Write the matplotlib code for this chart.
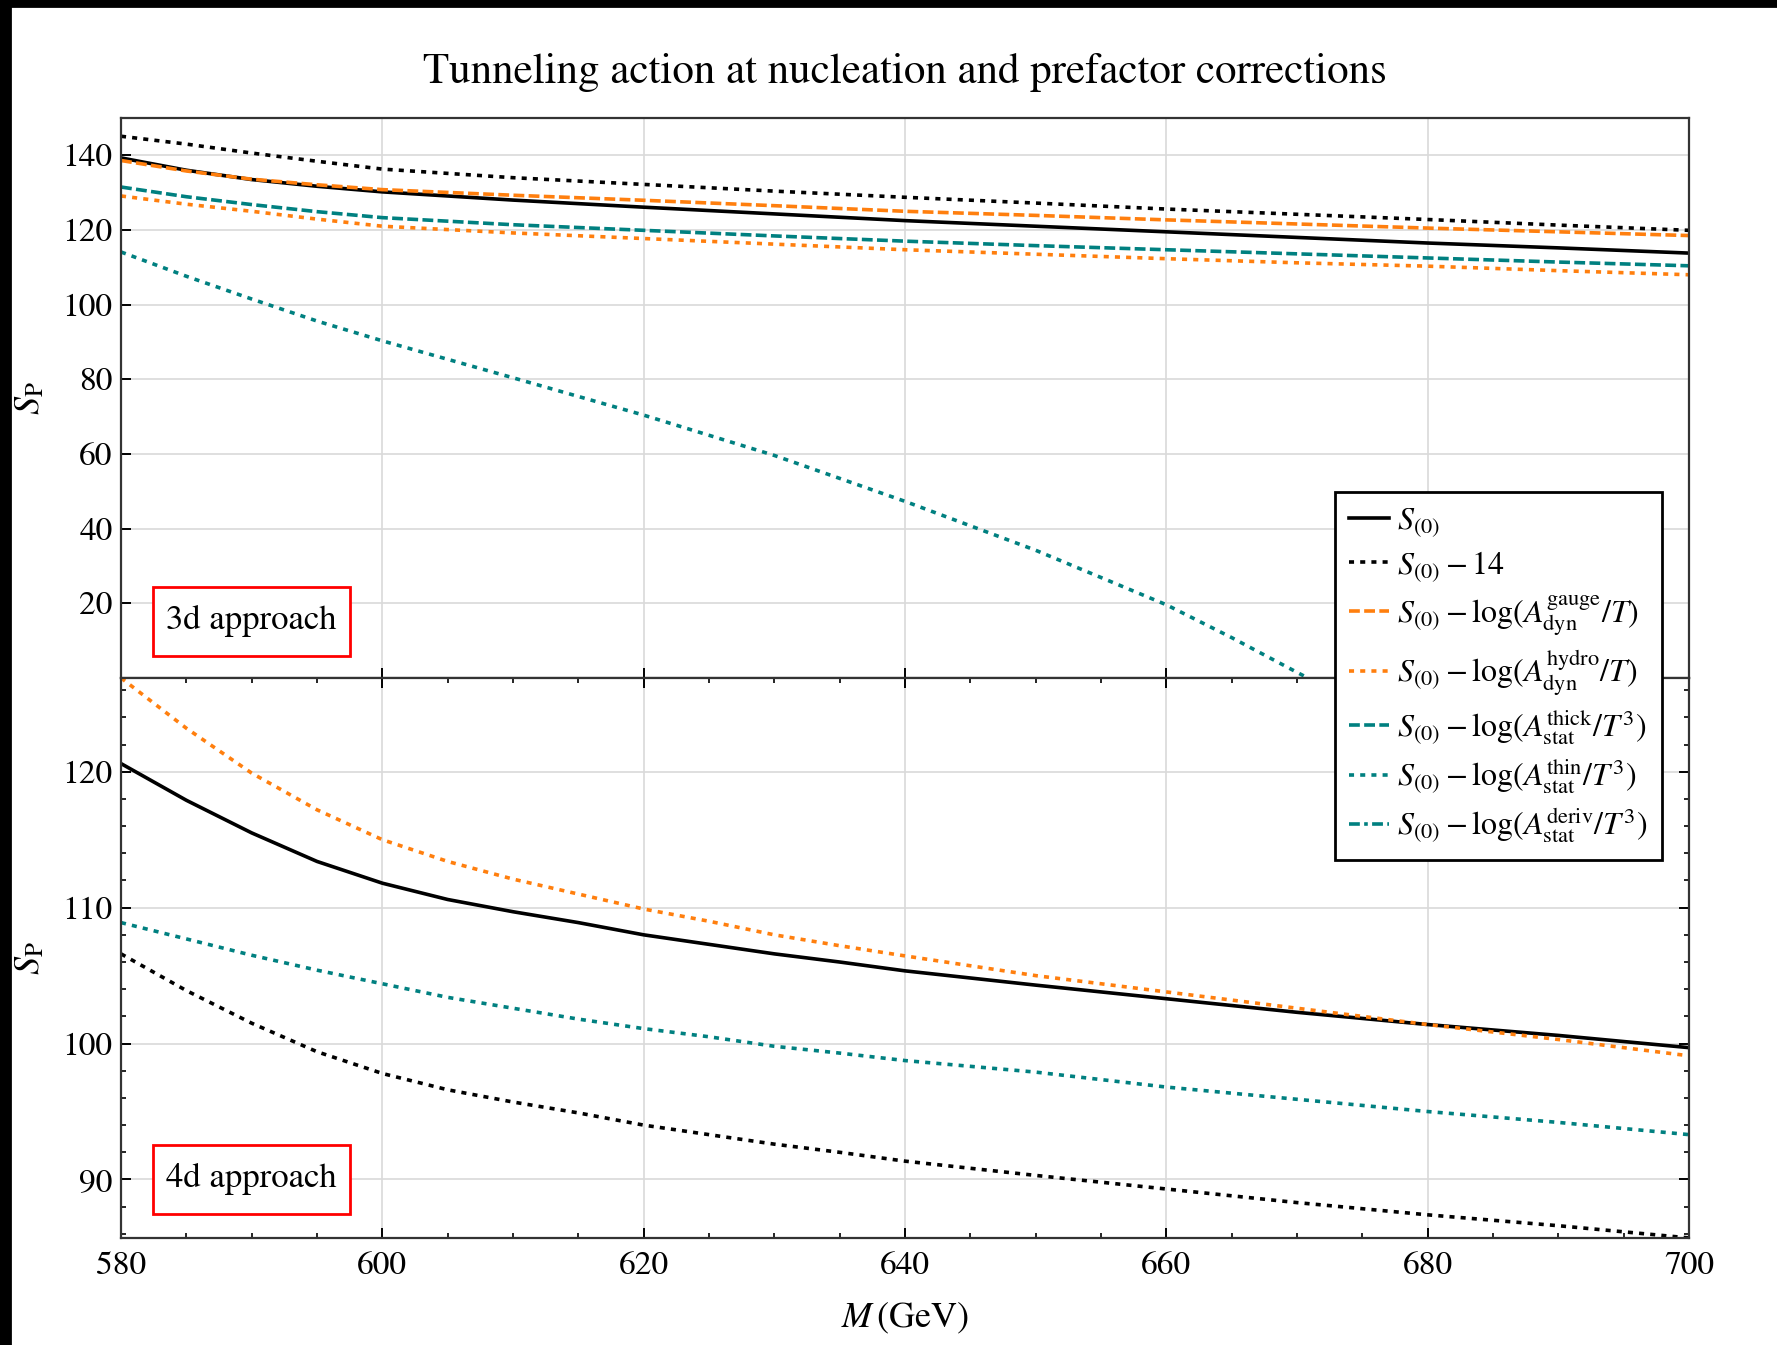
import matplotlib
matplotlib.use('Agg')
import matplotlib.pyplot as plt
from matplotlib.lines import Line2D
from matplotlib.patches import Rectangle
from matplotlib.ticker import MultipleLocator, FixedLocator

plt.rcParams['font.family'] = ['STIXGeneral', 'DejaVu Sans']
plt.rcParams['mathtext.fontset'] = 'stix'

# ---------------- data: 3d approach (top panel) ----------------
M_3d = [580, 585, 590, 595, 600, 610, 620, 630, 640, 650, 660, 670, 680, 690, 700]
S0_3d = [139.3, 136.0, 133.5, 131.7, 130.2, 128.0, 126.1, 124.3, 122.5, 121.0, 119.5, 118.0, 116.5, 115.2, 113.8]
S0m14_3d = [145.1, 143.0, 140.6, 138.4, 136.3, 134.0, 132.2, 130.4, 128.75, 127.2, 125.6, 124.2, 122.8, 121.3, 119.9]
gauge_3d = [138.6, 135.8, 133.6, 132.1, 130.8, 129.3, 127.95, 126.5, 125.0, 123.9, 122.7, 121.6, 120.5, 119.5, 118.5]
hydro_3d = [129.1, 126.9, 125.0, 122.9, 121.0, 119.2, 117.7, 116.2, 114.7, 113.5, 112.3, 111.2, 110.3, 109.1, 108.0]
thick_3d = [131.5, 128.9, 126.8, 124.9, 123.3, 121.4, 119.9, 118.4, 117.0, 115.8, 114.7, 113.6, 112.5, 111.4, 110.4]
M_3d_thin = [580, 585, 590, 595, 600, 610, 620, 630, 640, 650, 660, 665, 670, 673]
thin_3d = [114.1, 107.6, 101.5, 95.6, 90.3, 80.4, 70.4, 59.6, 47.3, 34.2, 19.6, 10.8, 1.5, -4.0]

# ---------------- data: 4d approach (bottom panel) ----------------
M_4d = [580, 585, 590, 595, 600, 605, 610, 615, 620, 625, 630, 635, 640, 650, 660, 670, 680, 690, 700]
S0_4d = [120.6, 117.9, 115.5, 113.4, 111.8, 110.6, 109.7, 108.9, 108.0, 107.3, 106.6, 106.0, 105.35, 104.3, 103.3, 102.3, 101.4, 100.6, 99.7]
S0m14_4d = [106.6, 103.9, 101.5, 99.4, 97.8, 96.6, 95.7, 94.9, 94.0, 93.3, 92.6, 92.0, 91.35, 90.3, 89.3, 88.3, 87.4, 86.6, 85.7]
hydro_4d = [126.9, 123.2, 119.9, 117.2, 115.0, 113.4, 112.1, 111.0, 109.9, 109.0, 108.0, 107.2, 106.45, 105.0, 103.8, 102.6, 101.4, 100.3, 99.1]
thin_4d = [108.9, 107.7, 106.5, 105.4, 104.4, 103.4, 102.6, 101.8, 101.1, 100.5, 99.8, 99.3, 98.75, 97.9, 96.8, 95.9, 95.0, 94.2, 93.3]

labels = [r'$S_{(0)}$',
          r'$S_{(0)} - 14$',
          r'$S_{(0)} - \log(A_{\rm dyn}^{\rm gauge}/T)$',
          r'$S_{(0)} - \log(A_{\rm dyn}^{\rm hydro}/T)$',
          r'$S_{(0)} - \log(A_{\rm stat}^{\rm thick}/T^3)$',
          r'$S_{(0)} - \log(A_{\rm stat}^{\rm thin}/T^3)$',
          r'$S_{(0)} - \log(A_{\rm stat}^{\rm deriv}/T^3)$']

ORANGE = '#ff7f0e'
TEAL = '#008080'
LW = 1.3
DOT = (0, (1.4, 1.7))
DASH = (0, (3.0, 1.2))
DASHDOT = (0, (3.0, 1.2, 1.0, 1.2))

fig = plt.figure(figsize=(8.885, 6.725), dpi=200)
gs = fig.add_gridspec(2, 1, left=0.0681, right=0.9505, top=0.9123, bottom=0.0796, hspace=0)
ax1 = fig.add_subplot(gs[0])
ax2 = fig.add_subplot(gs[1], sharex=ax1)

h_s0, = ax1.plot(M_3d, S0_3d, color='black', lw=LW, ls='-')
h_m14, = ax1.plot(M_3d, S0m14_3d, color='black', lw=LW, ls=DOT)
h_g, = ax1.plot(M_3d, gauge_3d, color=ORANGE, lw=LW, ls=DASH)
h_h, = ax1.plot(M_3d, hydro_3d, color=ORANGE, lw=LW, ls=DOT)
h_tk, = ax1.plot(M_3d, thick_3d, color=TEAL, lw=LW, ls=DASH)
h_tn, = ax1.plot(M_3d_thin, thin_3d, color=TEAL, lw=LW, ls=DOT)
h_dv = Line2D([], [], color=TEAL, lw=LW, ls=DASHDOT)

ax2.plot(M_4d, S0_4d, color='black', lw=LW, ls='-')
ax2.plot(M_4d, S0m14_4d, color='black', lw=LW, ls=DOT)
ax2.plot(M_4d, hydro_4d, color=ORANGE, lw=LW, ls=DOT)
ax2.plot(M_4d, thin_4d, color=TEAL, lw=LW, ls=DOT)

ax1.set_xlim(580, 700)
ax1.set_ylim(0, 150)
ax2.set_ylim(85.7, 126.9)

for ax in (ax1, ax2):
    ax.set_axisbelow(True)
    ax.grid(True, which='major', color='#d9d9d9', lw=0.6)
    for sp in ax.spines.values():
        sp.set_color('#333333')
        sp.set_linewidth(0.8)

ax1.xaxis.set_major_locator(MultipleLocator(20))
ax1.yaxis.set_major_locator(FixedLocator([20, 40, 60, 80, 100, 120, 140]))
ax1.tick_params(axis='both', which='major', direction='in', length=3.5, width=0.7,
                top=False, right=False, labelsize=12, pad=3)
ax1.tick_params(axis='x', labelbottom=False)

ax2.xaxis.set_minor_locator(MultipleLocator(5))
ax2.yaxis.set_major_locator(MultipleLocator(10))
ax2.yaxis.set_minor_locator(MultipleLocator(2))
ax2.tick_params(axis='both', which='both', direction='in', top=True, right=True, labelsize=12)
ax2.tick_params(axis='both', which='major', length=3.5, width=0.7)
ax2.tick_params(axis='both', which='minor', length=1.8, width=0.6)
ax2.tick_params(axis='x', which='major', pad=5)
ax2.tick_params(axis='y', which='major', pad=3)

ax1.set_ylabel(r'$S_{\rm P}$', fontsize=13)
ax2.set_ylabel(r'$S_{\rm P}$', fontsize=13)
ax1.yaxis.set_label_coords(-0.047, 0.5)
ax2.yaxis.set_label_coords(-0.047, 0.5)
ax2.set_xlabel(r'$M\,$(GeV)', fontsize=13)
ax2.xaxis.set_label_coords(0.5, -0.112)

fig.text(0.5093, 0.946, 'Tunneling action at nucleation and prefactor corrections',
         ha='center', va='center', fontsize=15.5)

# annotation boxes
for ax, (y0, y1), txt in ((ax1, (0.0393, 0.1625), '3d approach'),
                          (ax2, (0.0434, 0.1668), '4d approach')):
    ax.add_patch(Rectangle((0.0204, y0), 0.146 - 0.0204, y1 - y0, transform=ax.transAxes,
                           fc='white', ec='red', lw=1.0, zorder=5))
    ax.text(0.0832, (y0 + y1) / 2, txt, transform=ax.transAxes, ha='center', va='center',
            fontsize=12.5, zorder=6)

leg = fig.legend([h_s0, h_m14, h_g, h_h, h_tk, h_tn, h_dv], labels,
                 loc='upper right', bbox_to_anchor=(0.9351, 0.634),
                 bbox_transform=fig.transFigure, frameon=True, fancybox=False,
                 edgecolor='black', framealpha=1, fontsize=11.5, handlelength=1.25,
                 handletextpad=0.25, labelspacing=0.3, borderpad=0.45, borderaxespad=0)
leg.get_frame().set_linewidth(1.0)

# black strips at the image edges (as in the reference)
fig.patches.append(Rectangle((0, 0), 10 / 1777, 1, transform=fig.transFigure,
                             color='black', zorder=10))
fig.patches.append(Rectangle((0, 1 - 6 / 1345), 1, 6 / 1345, transform=fig.transFigure,
                             color='black', zorder=10))

fig.savefig('out.png', dpi=200)
